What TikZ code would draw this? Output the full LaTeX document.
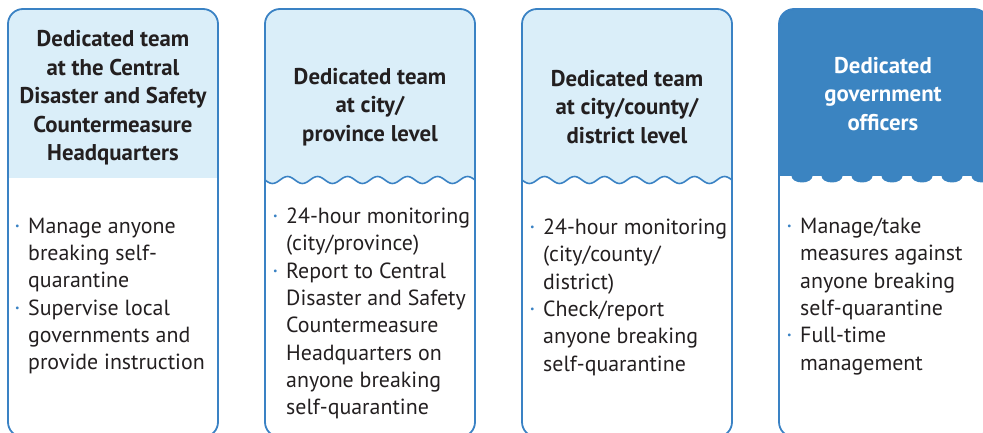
\documentclass[tikz,border=0pt]{standalone}
\usepackage{fontspec}
\setmainfont{PT Sans}
\definecolor{edgeblue}{HTML}{3A82C4}
\definecolor{headlight}{HTML}{DAEEF9}
\definecolor{headdark}{HTML}{3B84C1}
\definecolor{txt}{HTML}{231F20}
\newcommand{\bulletmark}{\makebox[13pt][l]{\raisebox{4pt}{\fontsize{10}{10}\selectfont\textcolor{edgeblue}{•}}}}
\newcommand{\indentmark}{\hspace*{13pt}}
\tikzset{
  panelborder/.style={draw=edgeblue, line width=1.8pt, rounded corners=15pt},
  wave/.style={draw=edgeblue, line width=1.6pt},
  headtext/.style={align=center, inner sep=0pt, text=txt, font=\fontsize{22.8}{28.5}\selectfont\bfseries},
  headwhite/.style={headtext, text=white},
  bodytext/.style={align=left, inner sep=0pt, anchor=north west, text=txt, font=\fontsize{21.9}{27.3}\selectfont},
}
\begin{document}
\begin{tikzpicture}[x=1pt,y=-1pt]
\useasboundingbox (0,0) rectangle (983,433);
\begin{scope}
\clip (0,0) rectangle (983,433);
% panel 1
\begin{scope}
\clip[rounded corners=15pt] (8,9) rectangle (218,437);
\fill[headlight] (8,9) rectangle (218,178);
\end{scope}
\draw[panelborder] (8,9) rectangle (218,437);
% panel 2
\begin{scope}
\clip[rounded corners=15pt] (265,9) rectangle (475,437);
\fill[headlight] (265,0) -- (475,0) -- plot[domain=475:265,samples=120] (\x,{180+3.5*sin(12*(\x-265))}) -- cycle;
\draw[wave] plot[domain=265:475,samples=120] (\x,{180+3.5*sin(12*(\x-265))});
\end{scope}
\draw[panelborder] (265,9) rectangle (475,437);
% panel 3
\begin{scope}
\clip[rounded corners=15pt] (522,9) rectangle (732,437);
\fill[headlight] (522,0) -- (732,0) -- plot[domain=732:522,samples=120] (\x,{180+3.5*sin(12*(\x-522))}) -- cycle;
\draw[wave] plot[domain=522:732,samples=120] (\x,{180+3.5*sin(12*(\x-522))});
\end{scope}
\draw[panelborder] (522,9) rectangle (732,437);
% panel 4
\begin{scope}
\clip[rounded corners=15pt] (779,9) rectangle (989,437);
\fill[headdark] (779,9) rectangle (989,176);
\foreach \cx in {802,832,...,982} {
  \fill[headdark] (\cx,176) ellipse [x radius=10.5, y radius=6.5];
}
\end{scope}
\draw[panelborder] (779,9) rectangle (989,437);
\end{scope}

% headers
\node[headtext] (h1) at (113,98) {Dedicated team\\at the Central\\Disaster and Safety\\Countermeasure\\Headquarters};
\node[headtext] (h2) at (370,107) {Dedicated team\\at city/\\province level};
\node[headtext] (h3) at (627,107) {Dedicated team\\at city/county/\\district level};
\node[headwhite] (h4) at (883,94) {Dedicated\\government\\officers};

% bodies
\node[bodytext] (b1) at (15,217.8) {\bulletmark Manage anyone\\\indentmark breaking self-\\\indentmark quarantine\\\bulletmark Supervise local\\\indentmark governments and\\\indentmark provide instruction};
\node[bodytext] (b2) at (273,207.8) {\bulletmark 24-hour monitoring\\\indentmark (city/province)\\\bulletmark Report to Central\\\indentmark Disaster and Safety\\\indentmark Countermeasure\\\indentmark Headquarters on\\\indentmark anyone breaking\\\indentmark self-quarantine};
\node[bodytext] (b3) at (530,218.8) {\bulletmark 24-hour monitoring\\\indentmark (city/county/\\\indentmark district)\\\bulletmark Check/report\\\indentmark anyone breaking\\\indentmark self-quarantine};
\node[bodytext] (b4) at (787,217.8) {\bulletmark Manage/take\\\indentmark measures against\\\indentmark anyone breaking\\\indentmark self-quarantine\\\bulletmark Full-time\\\indentmark management};
\end{tikzpicture}
\end{document}
